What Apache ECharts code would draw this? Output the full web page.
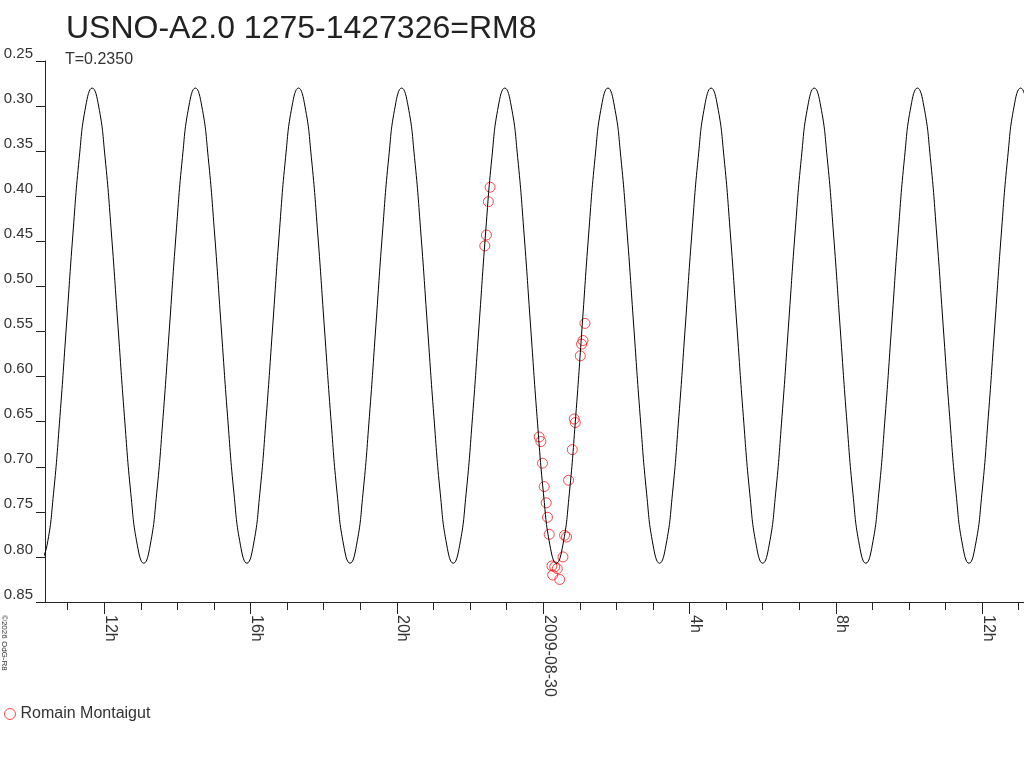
<!DOCTYPE html>
<html>
<head>
<meta charset="utf-8">
<script src="https://cdn.jsdelivr.net/npm/echarts@6/dist/echarts.min.js"></script>
<style>
html,body{margin:0;padding:0;background:#fff;}
#chart{width:1024px;height:768px;}
</style>
</head>
<body>
<div id="chart"></div>
<script>
// ---- data ----
// hours relative to 2009-08-30 00:00
var curveHours = [
  -13.740, -13.564, -13.388, -13.211, -13.035, -12.859, -12.683, -12.506,
  -12.330, -12.154, -11.978, -11.801, -11.625, -11.449, -11.273, -11.096,
  -10.920, -10.744, -10.568, -10.391, -10.215, -10.039, -9.863, -9.686,
  -9.510, -9.334, -9.158, -8.981, -8.805, -8.629, -8.453, -8.276,
  -8.100, -7.924, -7.748, -7.571, -7.395, -7.219, -7.043, -6.866,
  -6.690, -6.514, -6.338, -6.161, -5.985, -5.809, -5.633, -5.456,
  -5.280, -5.104, -4.928, -4.751, -4.575, -4.399, -4.223, -4.046,
  -3.870, -3.694, -3.518, -3.341, -3.165, -2.989, -2.813, -2.636,
  -2.460, -2.284, -2.108, -1.931, -1.755, -1.579, -1.403, -1.226,
  -1.050, -0.874, -0.698, -0.521, -0.345, -0.169, 0.008, 0.184,
  0.360, 0.536, 0.713, 0.889, 1.065, 1.241, 1.418, 1.594,
  1.770, 1.946, 2.123, 2.299, 2.475, 2.651, 2.828, 3.004,
  3.180, 3.356, 3.533, 3.709, 3.885, 4.061, 4.238, 4.414,
  4.590, 4.766, 4.943, 5.119, 5.295, 5.471, 5.648, 5.824,
  6.000, 6.176, 6.353, 6.529, 6.705, 6.881, 7.058, 7.234,
  7.410, 7.586, 7.763, 7.939, 8.115, 8.291, 8.468, 8.644,
  8.820, 8.996, 9.173, 9.349, 9.525, 9.701, 9.878, 10.054,
  10.230, 10.406, 10.583, 10.759, 10.935, 11.111, 11.288, 11.464,
  11.640, 11.816, 11.993, 12.169, 12.345, 12.521, 12.698, 12.874,
  13.050, 13.226, 13.403];
var curveMag = [
  0.807, 0.787, 0.730, 0.644, 0.544, 0.443, 0.357, 0.300,
  0.280, 0.300, 0.357, 0.443, 0.544, 0.644, 0.730, 0.787,
  0.807, 0.787, 0.730, 0.644, 0.544, 0.443, 0.357, 0.300,
  0.280, 0.300, 0.357, 0.443, 0.544, 0.644, 0.730, 0.787,
  0.807, 0.787, 0.730, 0.644, 0.544, 0.443, 0.357, 0.300,
  0.280, 0.300, 0.357, 0.443, 0.544, 0.644, 0.730, 0.787,
  0.807, 0.787, 0.730, 0.644, 0.544, 0.443, 0.357, 0.300,
  0.280, 0.300, 0.357, 0.443, 0.544, 0.644, 0.730, 0.787,
  0.807, 0.787, 0.730, 0.644, 0.544, 0.443, 0.357, 0.300,
  0.280, 0.300, 0.357, 0.443, 0.544, 0.644, 0.730, 0.787,
  0.807, 0.787, 0.730, 0.644, 0.544, 0.443, 0.357, 0.300,
  0.280, 0.300, 0.357, 0.443, 0.544, 0.644, 0.730, 0.787,
  0.807, 0.787, 0.730, 0.644, 0.544, 0.443, 0.357, 0.300,
  0.280, 0.300, 0.357, 0.443, 0.544, 0.644, 0.730, 0.787,
  0.807, 0.787, 0.730, 0.644, 0.544, 0.443, 0.357, 0.300,
  0.280, 0.300, 0.357, 0.443, 0.544, 0.644, 0.730, 0.787,
  0.807, 0.787, 0.730, 0.644, 0.544, 0.443, 0.357, 0.300,
  0.280, 0.300, 0.357, 0.443, 0.544, 0.644, 0.730, 0.787,
  0.807, 0.787, 0.730, 0.644, 0.544, 0.443, 0.357, 0.300,
  0.280, 0.300, 0.357];

var obsHours = [-1.452, -1.499, -1.553, -1.597, -0.110, -0.063, -0.019, 0.027, 0.082,
  0.118, 0.164, 0.238, 0.315, 0.384, 0.260, 0.452, 0.540, 0.584, 0.638, 0.693,
  0.795, 0.849, 0.877, 1.014, 1.049, 1.088, 1.142];
var obsMag = [0.390, 0.406, 0.443, 0.455, 0.667, 0.672, 0.696, 0.722, 0.740,
  0.756, 0.775, 0.810, 0.811, 0.813, 0.820, 0.825, 0.800, 0.776, 0.778, 0.715,
  0.681, 0.647, 0.651, 0.577, 0.564, 0.560, 0.541];

var majorTickHours = [-12, -8, -4, 0, 4, 8, 12];
var majorTickLabels = ['12h', '16h', '20h', '2009-08-30', '4h', '8h', '12h'];
var minorTickHours = [-13, -12, -11, -10, -9, -8, -7, -6, -5, -4, -3, -2, -1, 0,
  1, 2, 3, 4, 5, 6, 7, 8, 9, 10, 11, 12, 13];
var yTicks = [0.25, 0.30, 0.35, 0.40, 0.45, 0.50, 0.55, 0.60, 0.65, 0.70, 0.75, 0.80, 0.85];

var titleText = 'USNO-A2.0 1275-1427326=RM8';
var subText = 'T=0.2350';
var observerName = 'Romain Montaigut';
var copyrightText = '\u00A92026 OdG-R8';
// -------------------------------------

var FONT = '"Liberation Sans", Arial, sans-serif';
var AXIS = '#222';
var RED = '#ff1a1a';

function zip(a, b) { return a.map(function (v, i) { return [v, b[i]]; }); }

var chart = echarts.init(document.getElementById('chart'), null, { renderer: 'canvas' });
chart.setOption({
  animation: false,
  backgroundColor: '#fff',
  textStyle: { fontFamily: FONT },
  title: [
    { text: titleText, left: 61, top: 8,
      textStyle: { fontSize: 32, fontWeight: 'normal', color: '#222', fontFamily: FONT } },
    { text: subText, left: 60, top: 47,
      textStyle: { fontSize: 16, fontWeight: 'normal', color: '#333', fontFamily: FONT } }
  ],
  legend: {
    left: 4, top: 706, padding: 0, itemWidth: 11, itemHeight: 11, itemGap: 10,
    textStyle: { fontSize: 16, color: '#333', fontFamily: FONT },
    data: [{ name: observerName, icon: 'circle',
      itemStyle: { color: 'transparent', borderColor: RED, borderWidth: 1 } }]
  },
  grid: { left: 45, right: 0, top: 61, bottom: 166 },
  xAxis: [
    {
      type: 'value', position: 'bottom', min: -13.62, max: 13.144,
      splitLine: { show: false },
      axisLine: { show: true, onZero: false, lineStyle: { color: AXIS, width: 1 } },
      axisTick: { show: true, length: 12, customValues: majorTickHours,
        lineStyle: { color: AXIS, width: 1 } },
      axisLabel: {
        show: true, customValues: majorTickHours, rotate: -90, margin: 13,
        align: 'left', verticalAlign: 'bottom', lineHeight: 12,
        fontSize: 16, color: '#333', fontFamily: FONT,
        formatter: function (v) {
          var i = majorTickHours.indexOf(Math.round(v));
          return i >= 0 ? majorTickLabels[i] : '';
        }
      }
    },
    {
      type: 'value', position: 'bottom', min: -13.62, max: 13.144,
      splitLine: { show: false },
      axisLine: { show: false, onZero: false },
      axisTick: { show: true, length: 8, customValues: minorTickHours,
        lineStyle: { color: AXIS, width: 1 } },
      axisLabel: { show: false }
    }
  ],
  yAxis: {
    type: 'value', inverse: true, min: 0.25, max: 0.85,
    splitLine: { show: false },
    axisLine: { show: true, onZero: false, lineStyle: { color: AXIS, width: 1 } },
    axisTick: { show: true, length: 9, customValues: yTicks, lineStyle: { color: AXIS, width: 1 } },
    axisLabel: {
      customValues: yTicks, margin: 12, verticalAlign: 'bottom',
      fontSize: 15, color: '#333', fontFamily: FONT,
      formatter: function (v) { return v.toFixed(2); }
    }
  },
  graphic: [
    { type: 'text', x: 0, y: 615, rotation: -Math.PI / 2,
      style: { text: copyrightText, fontSize: 8, fill: '#333', fontFamily: FONT,
        textAlign: 'left', textVerticalAlign: 'bottom' } }
  ],
  series: [
    {
      name: 'fit', type: 'line', xAxisIndex: 0, data: zip(curveHours, curveMag),
      showSymbol: false, symbol: 'none', smooth: true, clip: true, z: 3,
      lineStyle: { color: '#000', width: 1 }
    },
    {
      name: observerName, type: 'scatter', xAxisIndex: 0, data: zip(obsHours, obsMag),
      symbol: 'circle', symbolSize: 10, z: 2,
      itemStyle: { color: 'transparent', borderColor: RED, borderWidth: 1 }
    }
  ]
});
</script>
</body>
</html>
